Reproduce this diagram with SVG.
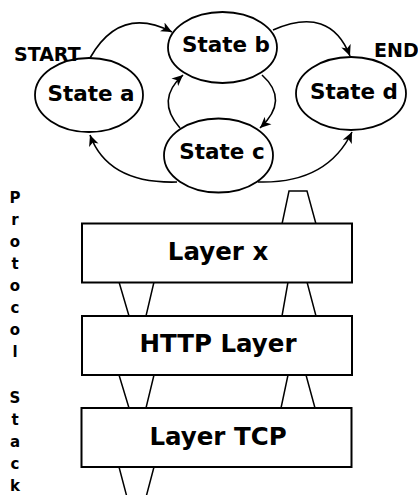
<svg xmlns="http://www.w3.org/2000/svg" width="418" height="495" viewBox="0 0 418 495">
<defs>
<style>
.st{fill:#fff;stroke:#000;stroke-width:1.8}
.lb{font-family:"DejaVu Sans",sans-serif;font-weight:bold;fill:#000;text-anchor:middle}
.s{font-size:21.5px}
.l{font-size:24.5px}
.e{font-size:19px}
.p{font-size:15px}
.cn{fill:none;stroke:#000;stroke-width:1.6;marker-end:url(#ah)}
.tz{fill:#fff;stroke:#000;stroke-width:1.5}
.bx{fill:#fff;stroke:#000;stroke-width:2}
</style>
<marker id="ah" markerWidth="12" markerHeight="12" refX="11" refY="5" orient="auto" markerUnits="userSpaceOnUse" viewBox="0 0 12 10">
<path d="M0,0 L11,5 L0,10 L3,5 z" fill="#000"/>
</marker>
</defs>
<g id="connectors">
<path class="cn" d="M90,58 Q120,5 172,32"/>
<path class="cn" d="M273,30 Q330,5 350,56"/>
<path class="cn" d="M262,75 Q290,100 260,128"/>
<path class="cn" d="M180,128 Q155,100 183,75"/>
<path class="cn" d="M177,182 Q108,184 90,135"/>
<path class="cn" d="M258,182 Q327,184 352,132"/>
</g>
<g id="state-a"><ellipse class="st" cx="89" cy="95" rx="54" ry="37"/><text class="lb s" x="91" y="100.5">State a</text></g>
<g id="state-b"><ellipse class="st" cx="222.5" cy="47.5" rx="54.5" ry="35.5"/><text class="lb s" x="226" y="52">State b</text></g>
<g id="state-d"><ellipse class="st" cx="351" cy="93.5" rx="55" ry="36.5"/><text class="lb s" x="354" y="98.5">State d</text></g>
<g id="state-c"><ellipse class="st" cx="218.5" cy="155.5" rx="54.5" ry="37"/><text class="lb s" x="222" y="158.5">State c</text></g>
<g id="start"><text class="lb e" x="14" y="61" style="text-anchor:start">START</text></g>
<g id="end"><text class="lb e" x="374" y="57" style="text-anchor:start">END</text></g>
<g id="protocol-stack-label">
<text class="lb p" x="15" y="203">P</text>
<text class="lb p" x="15" y="225">r</text>
<text class="lb p" x="15" y="247">o</text>
<text class="lb p" x="15" y="269">t</text>
<text class="lb p" x="15" y="291">o</text>
<text class="lb p" x="15" y="313">c</text>
<text class="lb p" x="15" y="335">o</text>
<text class="lb p" x="15" y="357">l</text>
<text class="lb p" x="15" y="403">S</text>
<text class="lb p" x="15" y="425">t</text>
<text class="lb p" x="15" y="447">a</text>
<text class="lb p" x="15" y="469">c</text>
<text class="lb p" x="15" y="491">k</text>
</g>
<g id="pipes">
<polygon class="tz" points="289,191 307,191 316,224 282,224"/>
<polygon class="tz" points="119,282 154,282 146,316 129,316"/>
<polygon class="tz" points="288,282 307,282 316,316 282,316"/>
<polygon class="tz" points="119,375 154,375 146,408 129,408"/>
<polygon class="tz" points="288,375 306,375 315,408 281,408"/>
<polygon class="tz" points="119,467 154,467 145,501 128,501"/>
</g>
<g id="layer-x"><rect class="bx" x="82" y="223.5" width="270" height="59"/><text class="lb l" x="218" y="259.5">Layer x</text></g>
<g id="http-layer"><rect class="bx" x="82" y="316" width="270" height="59"/><text class="lb l" x="218" y="352">HTTP Layer</text></g>
<g id="layer-tcp"><rect class="bx" x="81.5" y="408" width="270" height="59"/><text class="lb l" x="218" y="445">Layer TCP</text></g>
</svg>
